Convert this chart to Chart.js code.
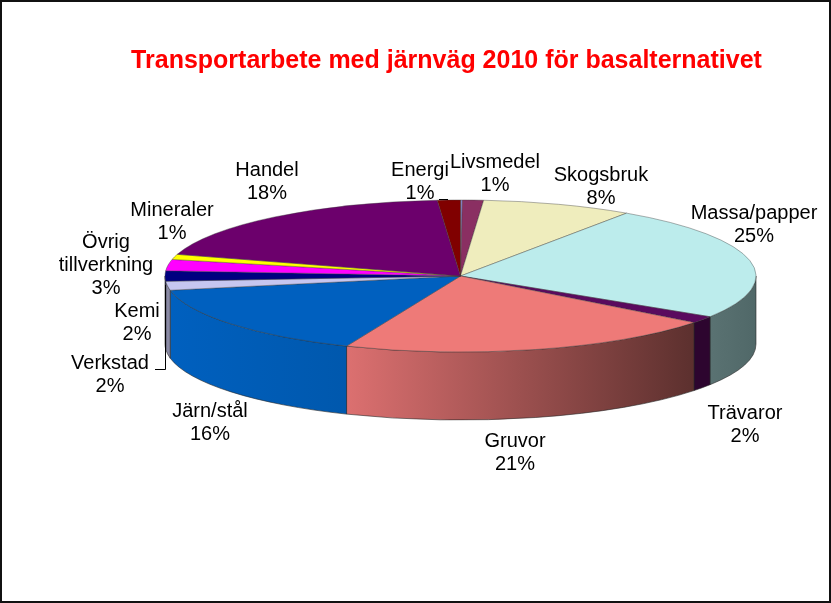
<!DOCTYPE html>
<html>
<head>
    <meta charset="utf-8">
    <title>Transportarbete med järnväg 2010</title>
    <style>
        html, body { margin: 0; padding: 0; background: #fff; }
        #wrap { position: relative; width: 831px; height: 603px; }
        #frame { position: absolute; left: 0; top: 0; width: 827px; height: 599px; border: 2px solid #111; pointer-events: none; }
    </style>
</head>
<body>
    <div id="wrap">
        <canvas id="pie" width="831" height="603"></canvas>
        <div id="frame"></div>
    </div>

    <script src="https://cdn.jsdelivr.net/npm/chart.js"></script>
    <script>
        const titleText = 'Transportarbete med järnväg 2010 för basalternativet';
        // first slice is the thin unlabelled sliver right at 12 o'clock
        const categories = ['', 'Livsmedel', 'Skogsbruk', 'Massa/papper', 'Trävaror', 'Gruvor', 'Järn/stål',
            'Verkstad', 'Kemi', 'Övrig tillverkning', 'Mineraler', 'Handel', 'Energi'];
        const shares = [0.1, 1.15, 8.25, 24.5, 1.5, 20.8, 15.7, 1.9, 2.2, 2.4, 1.1, 19.15, 1.25];
        const percentLabels = ['', '1%', '8%', '25%', '2%', '21%', '16%', '2%', '2%', '3%', '1%', '18%', '1%'];

        const topColors = ['#8f8fe0', '#8a2f62', '#efedbd', '#bcecec', '#5a0a5e', '#ee7a78', '#0060bf',
            '#c6c6f0', '#000080', '#ff00ff', '#ffff00', '#6c006c', '#800000'];
        const rimFrom = ['#555', '#555', '#555', '#5a7272', '#2d052f', '#dc7070', '#0060bf', '#8a8aa5', '#000060', '#800080', '#808000', '#360036', '#400000'];
        const rimTo = ['#555', '#555', '#555', '#506868', '#2d052f', '#5c302e', '#0058ad', '#8a8aa5', '#000060', '#800080', '#808000', '#360036', '#400000'];

        // pie geometry on the page
        const pieX = 460.5, pieY = 276, pieRx = 295.5, pieRy = 76, pieDepth = 68;

        // label centre x, first line centre y
        const labelSpots = {
            'Livsmedel': [495, 162], 'Skogsbruk': [601, 175], 'Massa/papper': [754, 213], 'Trävaror': [745, 413],
            'Gruvor': [515, 441], 'Järn/stål': [210, 411], 'Verkstad': [110, 363], 'Kemi': [137, 311],
            'Övrig tillverkning': [106, 242], 'Mineraler': [172, 210], 'Handel': [267, 170], 'Energi': [420, 170]
        };
        const labelLineHeight = 23;

        const squashPie = {
            id: 'squashPie',
            beforeDatasetsDraw(chart) {
                const ctx = chart.ctx;
                const arcs = chart.getDatasetMeta(0).data;
                // side wall first, only the front half of the ellipse shows
                arcs.forEach((arc, i) => {
                    const a = Math.max(arc.startAngle, 0);
                    const b = Math.min(arc.endAngle, Math.PI);
                    if (b <= a) return;
                    const x1 = pieX + pieRx * Math.cos(a);
                    const x2 = pieX + pieRx * Math.cos(b);
                    const grad = ctx.createLinearGradient(x2, 0, x1, 0);
                    grad.addColorStop(0, rimFrom[i]);
                    grad.addColorStop(1, rimTo[i]);
                    ctx.save();
                    ctx.beginPath();
                    ctx.ellipse(pieX, pieY, pieRx, pieRy, 0, a, b);
                    ctx.ellipse(pieX, pieY + pieDepth, pieRx, pieRy, 0, b, a, true);
                    ctx.closePath();
                    ctx.fillStyle = grad;
                    ctx.fill();
                    ctx.strokeStyle = 'rgba(40,40,40,0.75)';
                    ctx.lineWidth = 0.8;
                    ctx.stroke();
                    ctx.restore();
                });
                const first = arcs[0];
                ctx.save();
                ctx.translate(pieX, pieY);
                ctx.scale(pieRx / first.outerRadius, pieRy / first.outerRadius);
                ctx.translate(-first.x, -first.y);
            },
            afterDatasetsDraw(chart) {
                chart.ctx.restore();
            },
            afterDraw(chart) {
                const ctx = chart.ctx;
                ctx.save();
                ctx.fillStyle = '#000';
                ctx.font = '20px "Liberation Sans", Arial, sans-serif';
                ctx.textAlign = 'center';
                ctx.textBaseline = 'middle';
                categories.forEach((name, i) => {
                    if (!labelSpots[name]) return;
                    const [x, y] = labelSpots[name];
                    const lines = name === 'Övrig tillverkning' ? ['Övrig', 'tillverkning'] : [name];
                    lines.concat(percentLabels[i]).forEach((line, k) => {
                        ctx.fillText(line, x, y + k * labelLineHeight);
                    });
                });
                // leader lines for Energi and Verkstad
                ctx.strokeStyle = '#000';
                ctx.lineWidth = 1;
                ctx.beginPath();
                ctx.moveTo(439, 199.5);
                ctx.lineTo(448, 199.5);
                ctx.moveTo(155, 369.5);
                ctx.lineTo(165.5, 369.5);
                ctx.lineTo(165.5, 285);
                ctx.stroke();
                ctx.restore();
            }
        };

        new Chart(document.getElementById('pie'), {
            type: 'pie',
            data: {
                labels: categories,
                datasets: [{
                    data: shares,
                    backgroundColor: topColors,
                    borderColor: 'rgba(60,60,60,0.7)',
                    borderWidth: 0.8
                }]
            },
            options: {
                responsive: false,
                animation: false,
                events: [],
                layout: { padding: { left: 62 } },
                plugins: {
                    legend: { display: false },
                    tooltip: { enabled: false },
                    title: {
                        display: true,
                        text: titleText,
                        color: '#ff0000',
                        font: { family: '"Liberation Sans", Arial, sans-serif', size: 25, weight: 'bold' },
                        padding: { top: 46, bottom: 10 }
                    }
                }
            },
            plugins: [squashPie]
        });
    </script>
</body>
</html>
